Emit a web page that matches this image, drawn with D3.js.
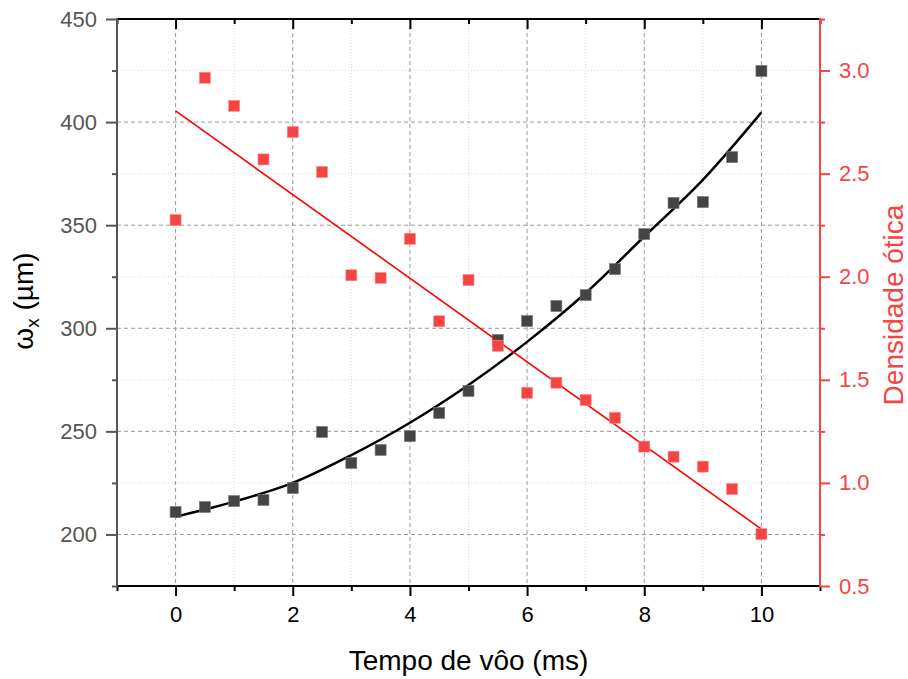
<!DOCTYPE html>
<html><head><meta charset="utf-8">
<script src="https://cdn.jsdelivr.net/npm/d3@7"></script>
<style>
html,body{margin:0;padding:0;background:#fff;}
svg{display:block;font-family:Arial,"Liberation Sans",sans-serif;}
</style></head>
<body>
<svg id="chart" width="908" height="679"></svg>
<script>
// ---- data ----
const tempo = [0,0.5,1,1.5,2,2.5,3,3.5,4,4.5,5,5.5,6,6.5,7,7.5,8,8.5,9,9.5,10];
const omegaX = [210.9,213.3,216.2,216.7,222.5,249.7,234.7,241.0,247.7,258.9,269.6,294.3,303.5,310.8,316.1,328.7,345.7,360.8,361.2,383.0,424.8];
const densidade = [2.275,2.965,2.829,2.569,2.702,2.508,2.007,1.994,2.184,1.784,1.984,1.665,1.437,1.486,1.402,1.316,1.176,1.127,1.079,0.970,0.752];
// fitted curves
const fitT = [0,1,2,3,4,5,6,7,8,9,10];
const fitOmega = [208.6,215.9,225.0,238.5,254.2,272.5,293.4,317.1,344.5,372.0,404.7];
const fitLineT = [0,10];
const fitDens = [2.804,0.776];
const xTicks = [0,2,4,6,8,10];
const yLeftTicks = [200,250,300,350,400,450];
const yRightTicks = [0.5,1.0,1.5,2.0,2.5,3.0];

const svg = d3.select("#chart");
const L = 117, R = 820, T = 19, B = 586;
const x = d3.scaleLinear().domain([-1,11]).range([L,R]);
const yL = d3.scaleLinear().domain([175,450]).range([B,T]);
const yR = d3.scaleLinear().domain([0.5,3.25]).range([B,T]);
const red = "#f44444";

const xMinor = d3.range(-1,12,2);
const yLMinor = d3.range(175,451,50);
const yRMinor = d3.range(0.75,3.26,0.5);

// grid
const g = svg.append("g");
g.selectAll(".vmin").data(d3.range(1,10,2)).join("line")
  .attr("x1",d=>x(d)).attr("x2",d=>x(d)).attr("y1",T).attr("y2",B)
  .attr("stroke","#d8d8d8").attr("stroke-width",1).attr("stroke-dasharray","1,2");
g.selectAll(".hmin").data(d3.range(225,426,50)).join("line")
  .attr("y1",d=>yL(d)).attr("y2",d=>yL(d)).attr("x1",L).attr("x2",R)
  .attr("stroke","#d8d8d8").attr("stroke-width",1).attr("stroke-dasharray","1,2");
g.selectAll(".vmaj").data(xTicks).join("line")
  .attr("x1",d=>x(d)).attr("x2",d=>x(d)).attr("y1",T).attr("y2",B)
  .attr("stroke","#999").attr("stroke-width",1).attr("stroke-dasharray","4,3");
g.selectAll(".hmaj").data(yLeftTicks.filter(d=>d<450)).join("line")
  .attr("y1",d=>yL(d)).attr("y2",d=>yL(d)).attr("x1",L).attr("x2",R)
  .attr("stroke","#999").attr("stroke-width",1).attr("stroke-dasharray","4,3");

// black series
const plot = svg.append("g");
plot.append("path")
  .attr("d", d3.line().x((d,i)=>x(fitT[i])).y(d=>yL(d)).curve(d3.curveCatmullRom)(fitOmega))
  .attr("fill","none").attr("stroke","#000").attr("stroke-width",2.5);
plot.selectAll(".bk").data(omegaX).join("rect")
  .attr("x",(d,i)=>x(tempo[i])-5.5).attr("y",d=>yL(d)-5.5)
  .attr("width",11).attr("height",11)
  .attr("fill","#444").attr("stroke","#777").attr("stroke-width",0.6);

// red series
plot.append("path")
  .attr("d", d3.line().x((d,i)=>x(fitLineT[i])).y(d=>yR(d))(fitDens))
  .attr("fill","none").attr("stroke","#ff0000").attr("stroke-width",1.6);
plot.selectAll(".rd").data(densidade).join("rect")
  .attr("x",(d,i)=>x(tempo[i])-5.5).attr("y",d=>yR(d)-5.5)
  .attr("width",11).attr("height",11)
  .attr("fill",red).attr("stroke","#ff8a8a").attr("stroke-width",0.6);

// axes
// bottom
const xb = svg.append("g").attr("transform",`translate(0,${B})`);
xb.call(d3.axisBottom(x).tickValues(xMinor).tickSize(5).tickFormat(""));
xb.call(g2=>g2.select(".domain").remove());
const xb2 = svg.append("g").attr("transform",`translate(0,${B})`)
  .call(d3.axisBottom(x).tickValues(xTicks).tickSize(10).tickPadding(10).tickFormat(d3.format("d")));
xb2.select(".domain").remove();
svg.selectAll("g").filter(function(){return this.parentNode.id==="chart";}).selectAll(".tick line").attr("stroke","#000").attr("stroke-width",2);
xb2.selectAll("text").attr("font-size",22).attr("fill","#000").attr("font-family","Arial,'Liberation Sans',sans-serif");
svg.append("line").attr("x1",L-1).attr("x2",R+1).attr("y1",B).attr("y2",B).attr("stroke","#000").attr("stroke-width",2);

// top
const xt = svg.append("g").attr("transform",`translate(0,${T})`);
xt.call(d3.axisBottom(x).tickValues(xTicks).tickSize(10).tickFormat(""));
xt.select(".domain").remove();
xt.selectAll(".tick line").attr("stroke","#000").attr("stroke-width",2);
const xt2 = svg.append("g").attr("transform",`translate(0,${T})`);
xt2.call(d3.axisBottom(x).tickValues(xMinor).tickSize(5).tickFormat(""));
xt2.select(".domain").remove();
xt2.selectAll(".tick line").attr("stroke","#000").attr("stroke-width",2);
svg.append("line").attr("x1",L-1).attr("x2",R+1).attr("y1",T).attr("y2",T).attr("stroke","#000").attr("stroke-width",2);

// left
const ylg = svg.append("g").attr("transform",`translate(${L},0)`);
ylg.call(d3.axisLeft(yL).tickValues(yLMinor).tickSize(5).tickFormat(""));
ylg.select(".domain").remove();
ylg.selectAll(".tick line").attr("stroke","#555").attr("stroke-width",2);
const ylg2 = svg.append("g").attr("transform",`translate(${L},0)`)
  .call(d3.axisLeft(yL).tickValues(yLeftTicks).tickSize(11).tickPadding(9).tickFormat(d3.format("d")));
ylg2.select(".domain").remove();
ylg2.selectAll(".tick line").attr("stroke","#555").attr("stroke-width",2);
ylg2.selectAll("text").attr("font-size",22).attr("fill","#555").attr("font-family","Arial,'Liberation Sans',sans-serif");
svg.append("line").attr("x1",L).attr("x2",L).attr("y1",T-1).attr("y2",B+1).attr("stroke","#555").attr("stroke-width",2);

// right
const yrg = svg.append("g").attr("transform",`translate(${R},0)`);
yrg.call(d3.axisRight(yR).tickValues(yRMinor).tickSize(5).tickFormat(""));
yrg.select(".domain").remove();
yrg.selectAll(".tick line").attr("stroke",red).attr("stroke-width",2);
const yrg2 = svg.append("g").attr("transform",`translate(${R},0)`)
  .call(d3.axisRight(yR).tickValues(yRightTicks).tickSize(10).tickPadding(9).tickFormat(d3.format(".1f")));
yrg2.select(".domain").remove();
yrg2.selectAll(".tick line").attr("stroke",red).attr("stroke-width",2);
yrg2.selectAll("text").attr("font-size",22).attr("fill",red).attr("font-family","Arial,'Liberation Sans',sans-serif");
svg.append("line").attr("x1",R).attr("x2",R).attr("y1",T-1).attr("y2",B+1).attr("stroke",red).attr("stroke-width",2);

// titles
svg.append("text").attr("x",(L+R)/2).attr("y",670).attr("text-anchor","middle")
  .attr("font-size",28).attr("fill","#000").text("Tempo de vôo (ms)");

const lt = svg.append("text").attr("transform","translate(33,301) rotate(-90)")
  .attr("text-anchor","middle").attr("font-size",28).attr("fill","#000");
lt.append("tspan").text("ω");
lt.append("tspan").attr("font-size",19).attr("dy",6).text("x");
lt.append("tspan").attr("dy",-6).text(" (µm)");

svg.append("text").attr("transform","translate(903,305) rotate(-90)")
  .attr("text-anchor","middle").attr("font-size",28).attr("fill",red).text("Densidade ótica");
</script>
</body></html>
